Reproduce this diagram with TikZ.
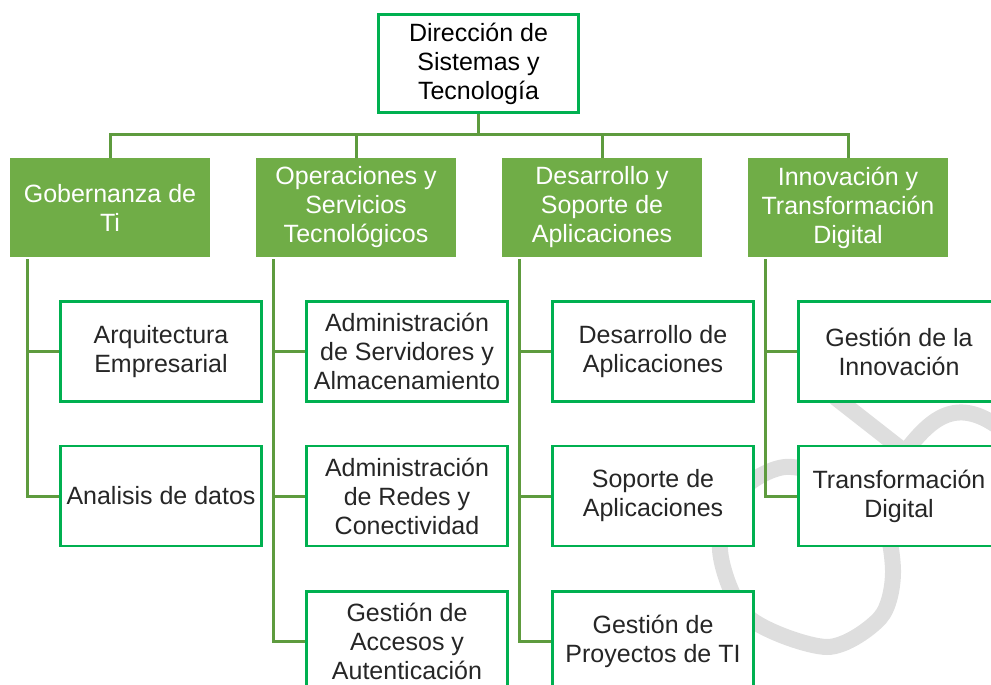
\documentclass[tikz,border=0pt]{standalone}
\usepackage{fontspec}
\setmainfont{Liberation Sans}
\definecolor{hdrgreen}{HTML}{70AD47}
\definecolor{boxgreen}{HTML}{00B050}
\definecolor{linkgreen}{HTML}{5E9B3E}
\definecolor{wmgray}{HTML}{DEDEDE}

\begin{document}
\begin{tikzpicture}[x=1pt,y=-1pt,
    font=\fontsize{25}{29}\selectfont,
    head/.style={fill=hdrgreen,text=white,minimum width=200pt,minimum height=99pt,inner sep=0pt,align=center},
    unit/.style={draw=boxgreen,line width=2.8pt,fill=white,text=black!85,minimum width=201pt,minimum height=100pt,inner sep=0pt,align=center},
    link/.style={draw=linkgreen,line width=3pt}]
  \clip (0,0) rectangle (991,685);
  % watermark in the background
  \draw[wmgray,line width=16pt,line cap=round] (836,398) -- (905,452);
  \draw[wmgray,line width=16pt] (905,452) .. controls (930,420) and (955,395) .. (1000,428);
  \draw[wmgray,line width=16pt] plot[smooth cycle] coordinates {(785,467) (740,492) (720,550) (748,617) (827,647) (880,618) (893,573) (882,515) (845,482)};

  \node[draw=boxgreen,line width=2.8pt,fill=white,minimum width=200pt,minimum height=98pt,inner sep=0pt,align=center] (dir) at (478.5,63.5) {Dirección de\\Sistemas y\\Tecnología};

  \node[head] (gob) at (110,207.5) {Gobernanza de\\Ti};
  \node[head] (ops) at (356,207.5) {Operaciones y\\Servicios\\Tecnológicos};
  \node[head] (des) at (602,207.5) {Desarrollo y\\Soporte de\\Aplicaciones};
  \node[head] (inn) at (848,207.5) {Innovación y\\Transformación\\Digital};

  \node[unit] (gob-1) at (161,351.5) {Arquitectura\\Empresarial};
  \node[unit] (gob-2) at (161,496) {Analisis de datos};
  \node[unit] (ops-1) at (407,351.5) {Administración\\de Servidores y\\Almacenamiento};
  \node[unit] (ops-2) at (407,496) {Administración\\de Redes y\\Conectividad};
  \node[unit] (ops-3) at (407,641.5) {Gestión de\\Accesos y\\Autenticación};
  \node[unit] (des-1) at (653,351.5) {Desarrollo de\\Aplicaciones};
  \node[unit] (des-2) at (653,496) {Soporte de\\Aplicaciones};
  \node[unit] (des-3) at (653,641.5) {Gestión de\\Proyectos de TI};
  \node[unit] (inn-1) at (899,351.5) {Gestión de la\\Innovación};
  \node[unit] (inn-2) at (899,496) {Transformación\\Digital};

  % bus from the top box
  \draw[link] (dir.south) -- ++(0,21) coordinate (bus);
  \draw[link] (bus) -| (gob.north);
  \draw[link] (bus) -| (inn.north);
  \foreach \h in {ops,des}
    \draw[link] (bus -| \h.north) -- (\h.north);

  % stems down each column
  \foreach \h/\last in {gob/2,ops/3,des/3,inn/2} {
    \coordinate (\h-s) at ([xshift=18pt,yshift=-2pt]\h.south west);
    \draw[link] (\h-s) |- (\h-\last.west);
  }
  \foreach \c/\h in {gob-1/gob,ops-1/ops,ops-2/ops,des-1/des,des-2/des,inn-1/inn} {
    \draw[link] (\c.west -| \h-s) -- (\c.west);
  }
\end{tikzpicture}
\end{document}
